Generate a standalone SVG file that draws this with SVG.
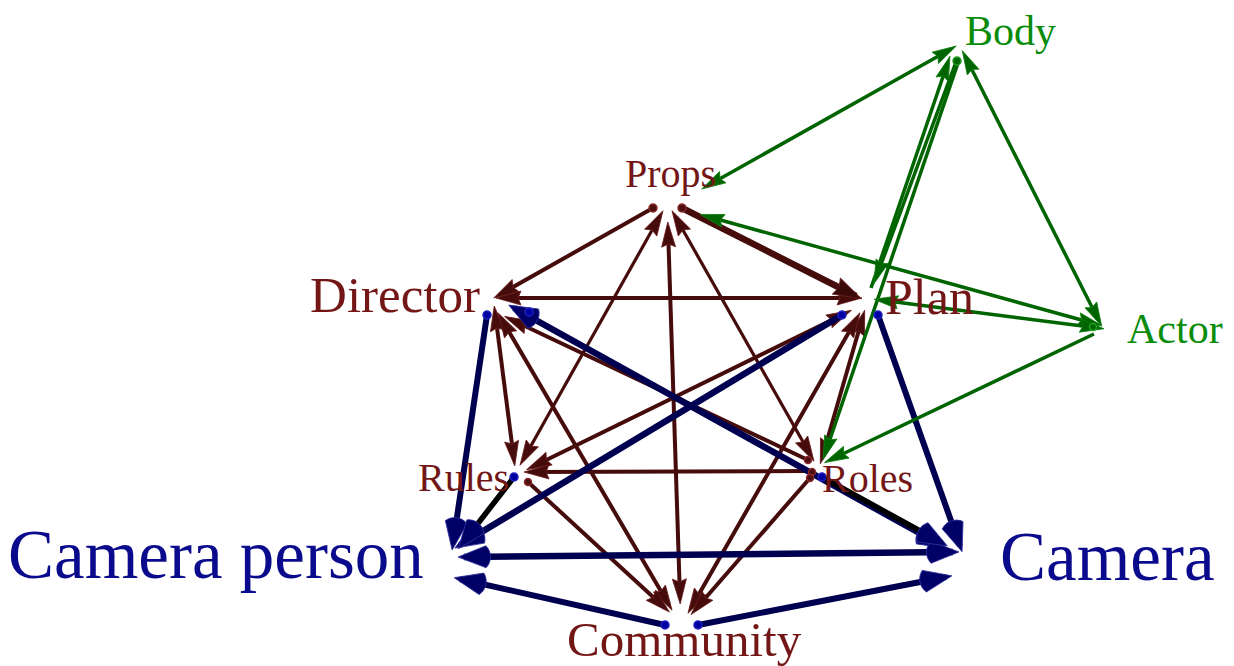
<svg xmlns="http://www.w3.org/2000/svg" width="1234" height="666" viewBox="0 0 1234 666">
<style>
.lbl{font-family:"Liberation Serif","Times New Roman",serif}
.red{fill:#731616}
.grn{fill:#0a8c0a}
.blu{fill:#0a0a8c}
.er{stroke:#460c0c;fill:none;stroke-width:4;marker-end:url(#ar)}
.eg{stroke:#006400;fill:none;stroke-width:3.5;marker-end:url(#ag)}
.eb{stroke:#000050;fill:none;stroke-width:6;marker-end:url(#ab)}
.ek{stroke:#000000;fill:none;stroke-width:5.5;marker-end:url(#ab)}
.both-r{marker-start:url(#ar)}
.both-g{marker-start:url(#ag)}
.both-b{marker-start:url(#ab)}
.tr{fill:#4d0f0f;stroke:#8a2a2a;stroke-width:1.5}
.tb{fill:#0000a0;stroke:#2020c0;stroke-width:1.5}
.tg{fill:#006400;stroke:#20a020;stroke-width:1.5}
</style>
<defs>
<marker id="ar" markerUnits="userSpaceOnUse" markerWidth="28" markerHeight="16" refX="19" refY="7" orient="auto-start-reverse" overflow="visible">
<path d="M0,0 L25,7 L0,14 L3,7 z" fill="#460c0c" stroke="#6a1c1c" stroke-width="0.8"/>
</marker>
<marker id="arb" markerUnits="userSpaceOnUse" markerWidth="32" markerHeight="20" refX="22" refY="9" orient="auto-start-reverse" overflow="visible">
<path d="M0,0 L28,9 L0,18 L3,9 z" fill="#3a0a0a" stroke="#6a1c1c" stroke-width="0.8"/>
</marker>
<marker id="ag" markerUnits="userSpaceOnUse" markerWidth="26" markerHeight="14" refX="18" refY="6.5" orient="auto-start-reverse" overflow="visible">
<path d="M0,0 L24,6.5 L0,13 L3,6.5 z" fill="#006400" stroke="#108010" stroke-width="0.8"/>
</marker>
<marker id="ab" markerUnits="userSpaceOnUse" markerWidth="34" markerHeight="26" refX="25" refY="11" orient="auto-start-reverse" overflow="visible">
<path d="M3,0 C-3,6 -3,16 3,22 L31,11 z" fill="#000066" stroke="#3030a0" stroke-width="0.8"/>
</marker>
</defs>

<g id="connectors">
<path class="er" d="M653,208 L499,295"/>
<path class="er both-r" d="M502,298 L856,298"/>
<path class="er" style="stroke-width:6.5;marker-end:url(#arb)" d="M682,208 L856,296"/>
<path class="er both-r" style="stroke-width:3.2" d="M660,216 L523,460"/>
<path class="er both-r" style="stroke-width:3.2" d="M675,216 L811,456"/>
<path class="er both-r" d="M668,228 L680,598"/>
<path class="er both-r" d="M495,312 L514,460"/>
<path class="er" d="M808,460 L510,319"/>
<path class="er both-r" d="M501,318 L669,605"/>
<path class="er both-r" d="M846,313 L532,467"/>
<path class="er both-r" d="M863,316 L822,458"/>
<path class="er both-r" d="M857,318 L691,608"/>
<path class="er" d="M808,471 L530,472"/>
<path class="er" d="M528,482 L665,608"/>
<path class="er" d="M810,478 L695,610"/>
<path class="eb both-b" style="stroke-width:6.5" d="M514,308 L941,545"/>
<path class="eb" style="stroke-width:6.5" d="M842,315 L460,545"/>
<path class="eb" d="M487,315 L453,544"/>
<path class="eb" d="M878,315 L960,546"/>
<path class="eb both-b" style="stroke-width:6.5" d="M464,557 L953,552"/>
<path class="eb" d="M665,625 L460,579"/>
<path class="eb" d="M698,625 L946,577"/>
<path class="ek" d="M514,477 L462,544"/>
<path class="ek" d="M822,477 L942,543"/>
<path class="eg both-g" d="M707,186 L951,49"/>
<path class="eg" d="M871,288 L948,62"/>
<path class="eg" d="M956,62 L876,278"/>
<path class="eg" d="M958,63 L825,454"/>
<path class="eg both-g" d="M965,56 L1099,321"/>
<path class="eg both-g" d="M706,216 L1096,324"/>
<path class="eg both-g" d="M880,300 L1098,328"/>
<path class="eg" d="M1094,334 L830,460"/>
<circle class="tr" cx="653" cy="208" r="4"/>
<circle class="tr" cx="682" cy="208" r="4"/>
<circle class="tr" cx="808" cy="460" r="3.5"/>
<circle class="tr" cx="528" cy="482" r="3.5"/>
<circle class="tr" cx="812" cy="472" r="3.5"/>
<circle class="tr" cx="810" cy="478" r="3.5"/>
<circle class="tb" cx="487" cy="315" r="4"/>
<circle class="tb" cx="529" cy="312" r="4"/>
<circle class="tb" cx="842" cy="315" r="4"/>
<circle class="tb" cx="878" cy="315" r="4"/>
<circle class="tb" cx="665" cy="625" r="4"/>
<circle class="tb" cx="698" cy="625" r="4"/>
<circle class="tb" cx="514" cy="477" r="4"/>
<circle class="tb" cx="822" cy="477" r="4"/>
<circle class="tg" cx="957" cy="61" r="4"/>
<circle class="tg" cx="1093" cy="327" r="3.5"/>
</g>

<g id="node-body"><text class="lbl grn" x="965" y="45" font-size="42">Body</text></g>
<g id="node-props"><text class="lbl red" x="625" y="187" font-size="40">Props</text></g>
<g id="node-director"><text class="lbl red" x="480" y="312" font-size="51" text-anchor="end">Director</text></g>
<g id="node-plan"><text class="lbl red" x="885" y="314" font-size="50">Plan</text></g>
<g id="node-actor"><text class="lbl grn" x="1127" y="343" font-size="42">Actor</text></g>
<g id="node-rules"><text class="lbl red" x="418" y="491" font-size="40">Rules</text></g>
<g id="node-roles"><text class="lbl red" x="822" y="492" font-size="40">Roles</text></g>
<g id="node-camera-person"><text class="lbl blu" x="8" y="578" font-size="69">Camera person</text></g>
<g id="node-camera"><text class="lbl blu" x="1000" y="580" font-size="69">Camera</text></g>
<g id="node-community"><text class="lbl red" x="567" y="656" font-size="49">Community</text></g>
</svg>
